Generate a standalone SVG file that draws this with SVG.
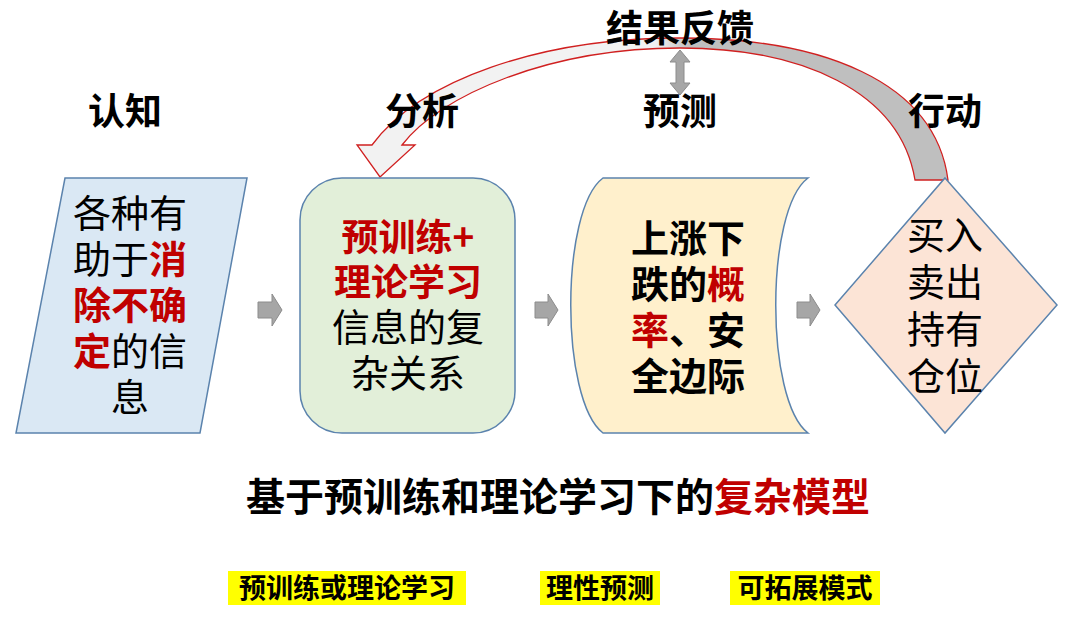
<svg xmlns="http://www.w3.org/2000/svg" width="1080" height="640" viewBox="0 0 1080 640">
<style>
text{font-family:"Noto Sans CJK SC","Noto Sans",sans-serif;text-anchor:middle;fill:#000}
.b{font-weight:bold}
.r{fill:#c00000;font-weight:bold}
.n{font-size:38px}
.h{font-size:37px;font-weight:bold}
.node{stroke:#5b83ad;stroke-width:1.5}
.ga{fill:#a6a6a6;stroke:#8c8c8c;stroke-width:1}
.hl{fill:#ffff00}
.lb{font-size:27px;font-weight:bold}
</style>
<defs>
<linearGradient id="g" x1="360" y1="0" x2="950" y2="0" gradientUnits="userSpaceOnUse">
<stop offset="0.5" stop-color="#f2f2f2"/><stop offset="0.56" stop-color="#bfbfbf"/>
</linearGradient>
</defs>
<rect width="1080" height="640" fill="#fff"/>
<g id="connectors">
<path d="M948,180 C935,80 820,38 680,38 C540,38 420,80 372,145 L357,145 L380,177 L415,145 L402,145 C440,95 550,48 680,48 C800,48 900,90 915,180 Z" fill="url(#g)" stroke="#d02020" stroke-width="1.3"/>
<path class="ga" d="M680,50 L690,62 L684,62 L684,83 L690,83 L680,95 L670,83 L676,83 L676,62 L670,62 Z"/>
<path class="ga" d="M258,302 L272,302 L272,294 L282,310 L272,326 L272,318 L258,318 Z"/>
<path class="ga" d="M535,302 L548,302 L548,294 L558,310 L548,326 L548,318 L535,318 Z"/>
<path class="ga" d="M797,302 L810,302 L810,294 L820,310 L810,326 L810,318 L797,318 Z"/>
</g>
<g id="headers">
<text class="h" x="125" y="125">认知</text>
<text class="h" x="422" y="125">分析</text>
<text class="h" x="680" y="125">预测</text>
<text class="h" x="945" y="125">行动</text>
<text class="h" x="680" y="42">结果反馈</text>
</g>
<g id="n1">
<polygon class="node" points="65,178 247,178 200,433 16,433" fill="#dae8f4"/>
<text class="n" x="130" y="227">各种有</text>
<text class="n" x="130" y="273">助于<tspan class="r">消</tspan></text>
<text class="n" x="130" y="319"><tspan class="r">除不确</tspan></text>
<text class="n" x="130" y="365"><tspan class="r">定</tspan>的信</text>
<text class="n" x="130" y="411">息</text>
</g>
<g id="n2">
<rect class="node" x="300" y="178" width="215" height="255" rx="42" fill="#e2efd9"/>
<text class="r" style="font-size:37px" x="408" y="251">预训练+</text>
<text class="r" style="font-size:37px" x="408" y="296">理论学习</text>
<text class="n" x="408" y="341">信息的复</text>
<text class="n" x="408" y="387">杂关系</text>
</g>
<g id="n3">
<path class="node" d="M603,178 L808,178 C765,210 765,400 808,433 L603,433 C560,400 560,210 603,178 Z" fill="#fff0cc"/>
<text class="n b" x="688" y="252">上涨下</text>
<text class="n b" x="688" y="298">跌的<tspan class="r">概</tspan></text>
<text class="n b" x="688" y="344"><tspan class="r">率</tspan>、安</text>
<text class="n b" x="688" y="390">全边际</text>
</g>
<g id="n4">
<polygon class="node" points="945,178 1057,305 945,433 835,305" fill="#fce4d6"/>
<text class="n" x="945" y="249">买入</text>
<text class="n" x="945" y="296">卖出</text>
<text class="n" x="945" y="343">持有</text>
<text class="n" x="945" y="390">仓位</text>
</g>
<g id="title">
<text class="h" style="font-size:39px" x="558" y="511">基于预训练和理论学习下的<tspan fill="#c00000">复杂模型</tspan></text>
</g>
<g id="labels">
<rect class="hl" x="228" y="571" width="238" height="34"/>
<text class="lb" x="347" y="598">预训练或理论学习</text>
<rect class="hl" x="540" y="571" width="120" height="34"/>
<text class="lb" x="600" y="598">理性预测</text>
<rect class="hl" x="730" y="571" width="150" height="34"/>
<text class="lb" x="805" y="598">可拓展模式</text>
</g>
</svg>
